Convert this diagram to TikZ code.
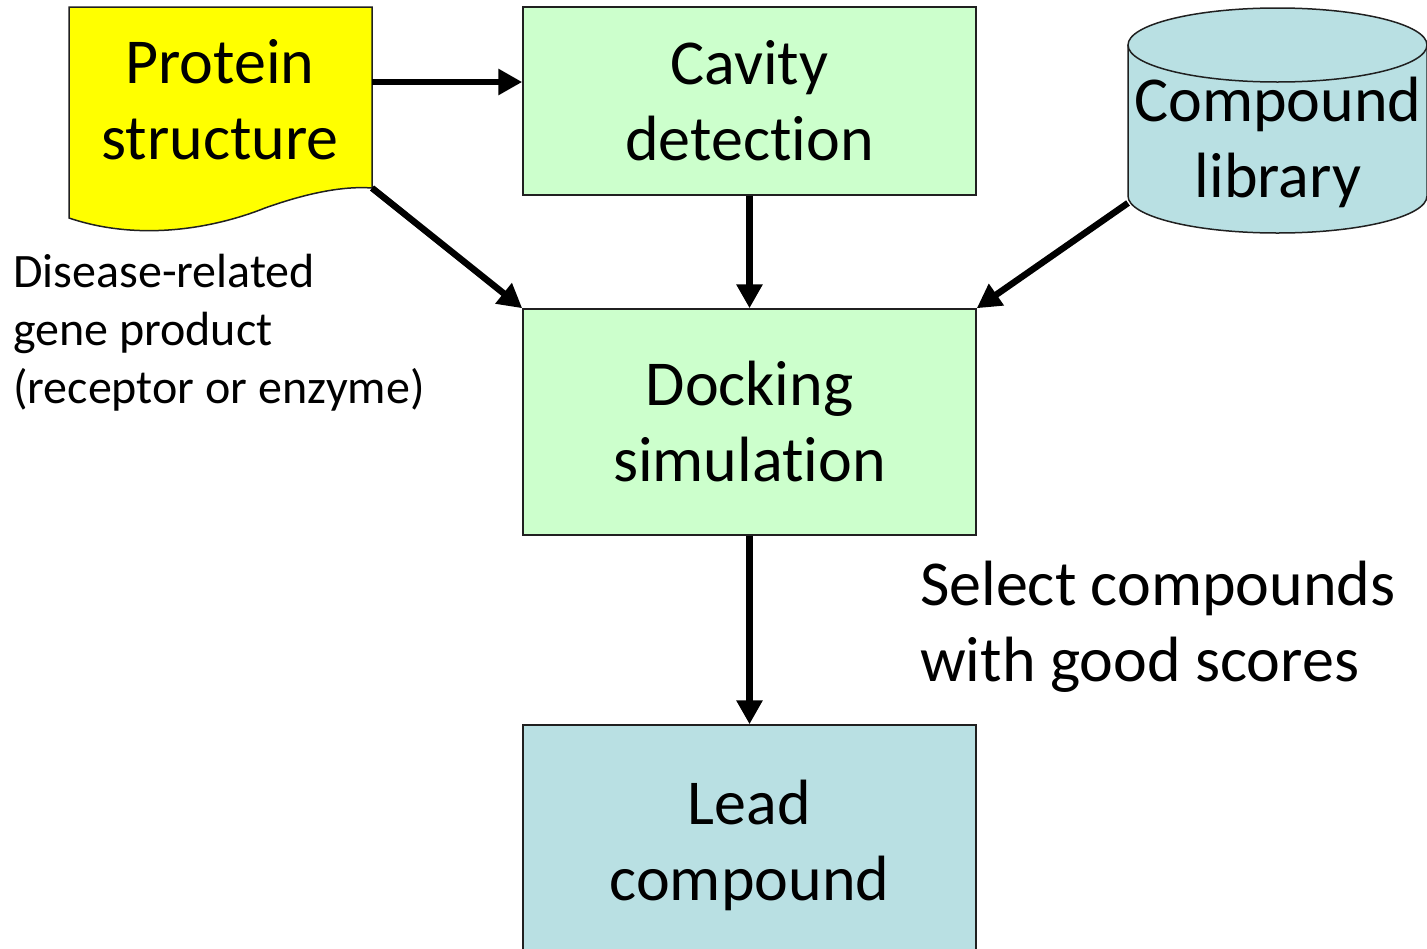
\documentclass[tikz,border=0pt]{standalone}
\usepackage{fontspec}
\setmainfont{Carlito}[Ligatures={NoCommon}]
\usetikzlibrary{arrows.meta}
\definecolor{docyellow}{HTML}{FFFF00}
\definecolor{boxgreen}{HTML}{CCFFCC}
\definecolor{boxblue}{HTML}{B9E0E3}
\definecolor{edge}{HTML}{202020}
\begin{document}
\begin{tikzpicture}[x=1pt,y=-1pt,
  bigtext/.style={font=\fontsize{64}{76}\selectfont, align=center},
  smalltext/.style={font=\fontsize{48}{58}\selectfont, align=left, anchor=north west, inner sep=0pt},
  procbox/.style={draw=edge, line width=1.5pt, minimum width=453pt, inner sep=0pt, bigtext},
  flow/.style={line width=6.5pt, -{Triangle[length=24pt,width=25pt]}}
]
\useasboundingbox (0,0) rectangle (1427,948);
% Protein structure document shape
\fill[docyellow] (372,188) -- (372,7) -- (69,7) -- (69,218)
  .. controls (140,242) and (215,228) .. (265,208)
  .. controls (310,192) and (345,186) .. (372,188) -- cycle;
\draw[edge, line width=1.5pt] (372,188) -- (372,7) -- (69,7) -- (69,218)
  .. controls (140,242) and (215,228) .. (265,208)
  .. controls (310,192) and (345,186) .. (372,188) -- cycle;
\coordinate (docR) at (372,82);
\coordinate (docBR) at (372,188);
\node[bigtext] (prot) at (220,100) {Protein\\structure};
% Compound library cylinder
\fill[boxblue] (1128,45) -- (1128,196) arc[start angle=180, end angle=360, x radius=149.5, y radius=-37] -- (1427,45) -- cycle;
\fill[boxblue] (1277.5,45) ellipse[x radius=149.5, y radius=37];
\draw[edge, line width=1.5pt] (1128,45) -- (1128,196) arc[start angle=180, end angle=360, x radius=149.5, y radius=-37] -- (1427,45);
\draw[edge, line width=1.5pt] (1277.5,45) ellipse[x radius=149.5, y radius=37];
\coordinate (libL) at (1128,203);
\node[bigtext] (lib) at (1278,142) {Compound\\library};
% Process boxes
\node[procbox, fill=boxgreen, minimum height=188pt] (cav) at (749.5,101) {Cavity\\detection};
\node[procbox, fill=boxgreen, minimum height=226pt] (dock) at (749.5,422) {Docking\\simulation};
\node[procbox, fill=boxblue, minimum height=240pt] (lead) at (749.5,845) {Lead\\compound};
% Labels
\node[smalltext] (dis) at (13,254) {Disease-related\\gene product\\(receptor or enzyme)};
\node[smalltext, font=\fontsize{64}{76}\selectfont] (sel) at (920,561) {Select compounds\\with good scores};
% Connectors
\draw[flow] (docR) -- (cav.west |- docR);
\draw[flow] (docBR) -- (dock.north west);
\draw[flow] (cav.south) -- (dock.north);
\draw[flow] (libL) -- (dock.north east);
\draw[flow] (dock.south) -- (lead.north);
\end{tikzpicture}
\end{document}
